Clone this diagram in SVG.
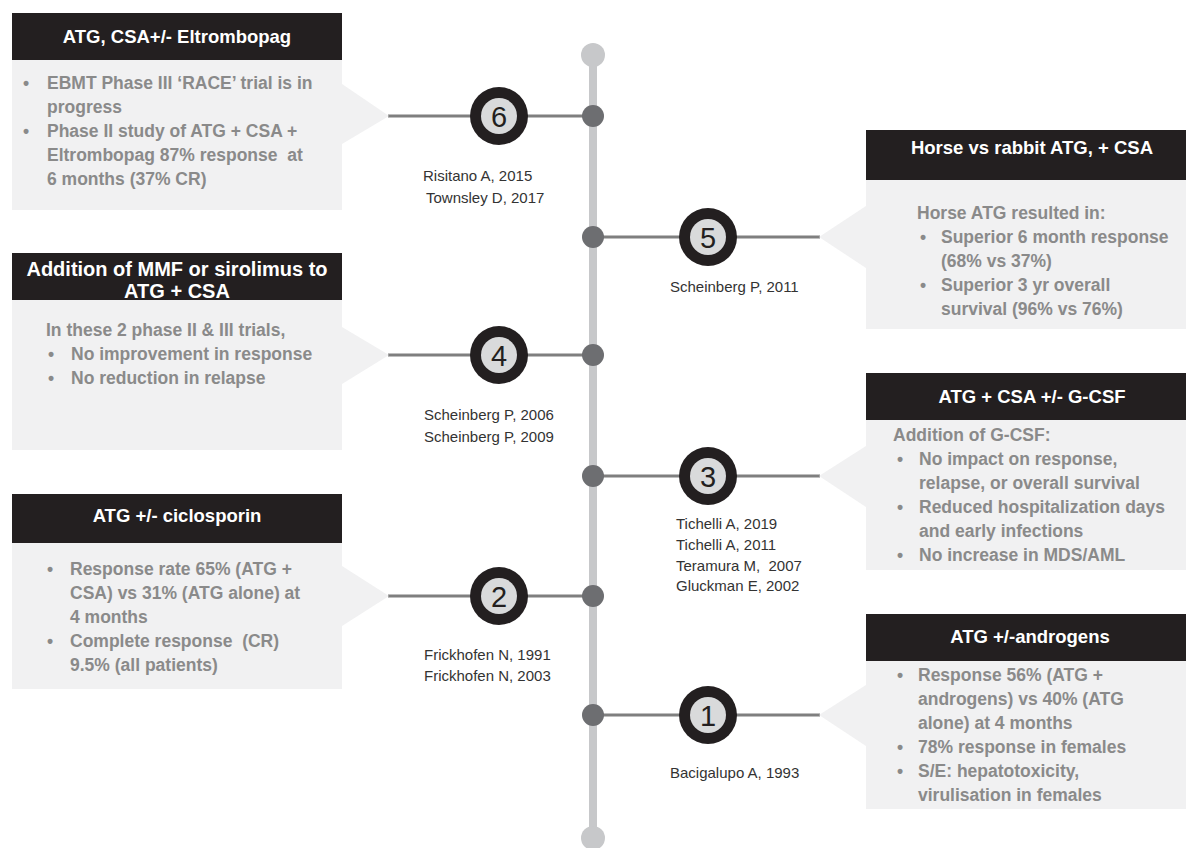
<svg xmlns="http://www.w3.org/2000/svg" width="1186" height="848" viewBox="0 0 1186 848">
<style>
.hdr{fill:#231f20}
.body{fill:#f1f1f2}
.ht{fill:#fff;font-family:"Liberation Sans",Arial,sans-serif;font-weight:bold;font-size:18.5px;text-anchor:middle}
.bt{fill:#8a8a8a;font-family:"Liberation Sans",Arial,sans-serif;font-weight:bold;font-size:17.5px;white-space:pre}
.ct{fill:#333;font-family:"Liberation Sans",Arial,sans-serif;font-size:15px;white-space:pre}
.num{fill:#231f20;font-family:"Liberation Sans",Arial,sans-serif;font-size:29px;text-anchor:middle}
.conn{stroke:#7f7f7f;stroke-width:3;fill:none}
.outer{fill:#231f20}
.inner{fill:#d9dadb}
.dot{fill:#6d6e71}
</style>
<rect width="1186" height="848" fill="#fff"/>
<g id="connectors">
<line x1="593" y1="55" x2="593" y2="838" stroke="#c7c8ca" stroke-width="8"/>
<circle cx="593" cy="55" r="12" fill="#c7c8ca"/>
<circle cx="593" cy="838" r="12" fill="#c7c8ca"/>
<line class="conn" x1="388" y1="116" x2="593" y2="116"/>
<line class="conn" x1="593" y1="237" x2="820" y2="237"/>
<line class="conn" x1="388" y1="355" x2="593" y2="355"/>
<line class="conn" x1="593" y1="476" x2="820" y2="476"/>
<line class="conn" x1="388" y1="596" x2="593" y2="596"/>
<line class="conn" x1="593" y1="715" x2="820" y2="715"/>
<circle class="dot" cx="593" cy="116" r="11"/>
<circle class="dot" cx="593" cy="237" r="11"/>
<circle class="dot" cx="593" cy="355" r="11"/>
<circle class="dot" cx="593" cy="476" r="11"/>
<circle class="dot" cx="593" cy="596" r="11"/>
<circle class="dot" cx="593" cy="715" r="11"/>
</g>
<g id="marker6"><circle class="outer" cx="499" cy="116" r="29"/><circle class="inner" cx="499" cy="116" r="18"/><text class="num" x="499" y="127">6</text></g>
<g id="marker5"><circle class="outer" cx="708" cy="237" r="29"/><circle class="inner" cx="708" cy="237" r="18"/><text class="num" x="708" y="248">5</text></g>
<g id="marker4"><circle class="outer" cx="499" cy="355" r="29"/><circle class="inner" cx="499" cy="355" r="18"/><text class="num" x="499" y="366">4</text></g>
<g id="marker3"><circle class="outer" cx="708" cy="476" r="29"/><circle class="inner" cx="708" cy="476" r="18"/><text class="num" x="708" y="487">3</text></g>
<g id="marker2"><circle class="outer" cx="499" cy="596" r="29"/><circle class="inner" cx="499" cy="596" r="18"/><text class="num" x="499" y="607">2</text></g>
<g id="marker1"><circle class="outer" cx="708" cy="715" r="29"/><circle class="inner" cx="708" cy="715" r="18"/><text class="num" x="708" y="726">1</text></g>

<g id="box6">
<rect class="body" x="12" y="60" width="330" height="150"/>
<polygon class="body" points="342,84 389,116 342,144"/>
<rect class="hdr" x="12" y="13" width="330" height="47"/>
<text class="ht" x="177" y="43">ATG, CSA+/- Eltrombopag</text>
<text class="bt"><tspan x="23" y="89">•</tspan><tspan x="47" y="89">EBMT Phase III ‘RACE’ trial is in</tspan><tspan x="47" y="113">progress</tspan><tspan x="23" y="137">•</tspan><tspan x="47" y="137">Phase II study of ATG + CSA +</tspan><tspan x="47" y="161">Eltrombopag 87% response  at</tspan><tspan x="47" y="185">6 months (37% CR)</tspan></text>
<text class="ct"><tspan x="423" y="181">Risitano A, 2015</tspan><tspan x="426" y="203">Townsley D, 2017</tspan></text>
</g>

<g id="box5">
<rect class="body" x="866" y="180" width="320" height="149"/>
<polygon class="body" points="866,206 819,237 866,268"/>
<rect class="hdr" x="866" y="130" width="320" height="50"/>
<text class="ht" x="1032" y="154">Horse vs rabbit ATG, + CSA</text>
<text class="bt"><tspan x="917" y="219">Horse ATG resulted in:</tspan><tspan x="920" y="243">•</tspan><tspan x="941" y="243">Superior 6 month response</tspan><tspan x="941" y="267">(68% vs 37%)</tspan><tspan x="920" y="291">•</tspan><tspan x="941" y="291">Superior 3 yr overall</tspan><tspan x="941" y="315">survival (96% vs 76%)</tspan></text>
<text class="ct" x="670" y="292">Scheinberg P, 2011</text>
</g>

<g id="box4">
<rect class="body" x="12" y="300" width="330" height="150"/>
<polygon class="body" points="342,327 389,355 342,384"/>
<rect class="hdr" x="12" y="253" width="330" height="47"/>
<text class="ht" style="font-size:20px"><tspan x="177" y="276">Addition of MMF or sirolimus to</tspan><tspan x="177" y="298">ATG + CSA</tspan></text>
<text class="bt"><tspan x="46" y="336">In these 2 phase II &amp; III trials,</tspan><tspan x="48" y="360">•</tspan><tspan x="71" y="360">No improvement in response</tspan><tspan x="48" y="384">•</tspan><tspan x="71" y="384">No reduction in relapse</tspan></text>
<text class="ct"><tspan x="424" y="420">Scheinberg P, 2006</tspan><tspan x="424" y="442">Scheinberg P, 2009</tspan></text>
</g>

<g id="box3">
<rect class="body" x="866" y="420" width="320" height="150"/>
<polygon class="body" points="866,446 819,476 866,507"/>
<rect class="hdr" x="866" y="373" width="320" height="47"/>
<text class="ht" x="1032" y="403">ATG + CSA +/- G-CSF</text>
<text class="bt"><tspan x="893" y="441">Addition of G-CSF:</tspan><tspan x="897" y="465">•</tspan><tspan x="919" y="465">No impact on response,</tspan><tspan x="919" y="489">relapse, or overall survival</tspan><tspan x="897" y="513">•</tspan><tspan x="919" y="513">Reduced hospitalization days</tspan><tspan x="919" y="537">and early infections</tspan><tspan x="897" y="561">•</tspan><tspan x="919" y="561">No increase in MDS/AML</tspan></text>
<text class="ct"><tspan x="676" y="529">Tichelli A, 2019</tspan><tspan x="676" y="550">Tichelli A, 2011</tspan><tspan x="676" y="571">Teramura M,  2007</tspan><tspan x="676" y="591">Gluckman E, 2002</tspan></text>
</g>

<g id="box2">
<rect class="body" x="12" y="543" width="330" height="146"/>
<polygon class="body" points="342,566 389,596 342,626"/>
<rect class="hdr" x="12" y="494" width="330" height="49"/>
<text class="ht" x="177" y="522">ATG +/- ciclosporin</text>
<text class="bt"><tspan x="47" y="575">•</tspan><tspan x="70" y="575">Response rate 65% (ATG +</tspan><tspan x="70" y="599">CSA) vs 31% (ATG alone) at</tspan><tspan x="70" y="623">4 months</tspan><tspan x="47" y="647">•</tspan><tspan x="70" y="647">Complete response  (CR)</tspan><tspan x="70" y="671">9.5% (all patients)</tspan></text>
<text class="ct"><tspan x="424" y="660">Frickhofen N, 1991</tspan><tspan x="424" y="681">Frickhofen N, 2003</tspan></text>
</g>

<g id="box1">
<rect class="body" x="866" y="660" width="320" height="149"/>
<polygon class="body" points="866,685 819,715 866,746"/>
<rect class="hdr" x="866" y="614" width="320" height="47"/>
<text class="ht" x="1030" y="643">ATG +/-androgens</text>
<text class="bt"><tspan x="897" y="681">•</tspan><tspan x="918" y="681">Response 56% (ATG +</tspan><tspan x="918" y="705">androgens) vs 40% (ATG</tspan><tspan x="918" y="729">alone) at 4 months</tspan><tspan x="897" y="753">•</tspan><tspan x="918" y="753">78% response in females</tspan><tspan x="897" y="777">•</tspan><tspan x="918" y="777">S/E: hepatotoxicity,</tspan><tspan x="918" y="801">virulisation in females</tspan></text>
<text class="ct" x="670" y="778">Bacigalupo A, 1993</text>
</g>
</svg>
